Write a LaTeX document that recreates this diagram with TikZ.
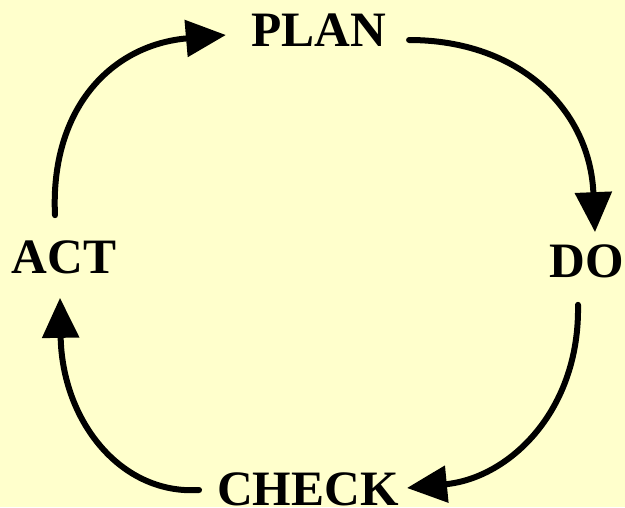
\documentclass[tikz,border=0pt]{standalone}
\usepackage{fontspec}
\setmainfont{Liberation Serif}
\usetikzlibrary{arrows.meta}
\definecolor{bgyellow}{HTML}{FFFFCC}
\begin{document}
\begin{tikzpicture}[x=1pt,y=-1pt,
  lbl/.style={inner sep=0pt,font=\fontsize{49.5}{49.5}\selectfont\bfseries},
  cyc/.style={line width=6pt,line cap=round,-{Triangle[length=40pt,width=36pt]}}]
\fill[bgyellow] (0,0) rectangle (625,507);
\useasboundingbox (0,0) rectangle (625,507);
\node[lbl] (plan) at (318.5,30) {PLAN};
\node[lbl] (do) at (587,261) {DO};
\node[lbl] (check) at (308,489) {CHECK};
\node[lbl] (act) at (64,257) {ACT};
\draw[cyc] ([shift={(23,10)}]plan.east) .. controls (520,40) and (590,110) .. ([shift={(8,-12)}]do.north);
\draw[cyc] ([shift={(-9,27)}]do.south) .. controls (580,410) and (510,478) .. ([shift={(8,-1)}]check.east);
\draw[cyc] ([shift={(-18,1)}]check.west) .. controls (120,495) and (62,420) .. ([shift={(-4,24)}]act.south);
\draw[cyc] ([shift={(-9,-25)}]act.north) .. controls (50,110) and (110,45) .. ([shift={(-25,5)}]plan.west);
\end{tikzpicture}
\end{document}
